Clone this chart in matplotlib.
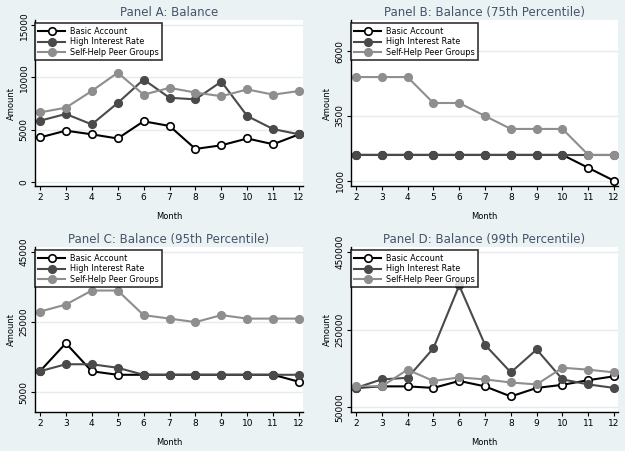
import matplotlib
matplotlib.use("Agg")
import matplotlib.pyplot as plt

months = [2, 3, 4, 5, 6, 7, 8, 9, 10, 11, 12]
series_names = ["Basic Account", "High Interest Rate", "Self-Help Peer Groups"]

# Panel A: Balance
a_basic = [4250, 4900, 4550, 4150, 5800, 5350, 3150, 3500, 4150, 3600, 4550]
a_high = [5850, 6500, 5500, 7550, 9800, 8050, 7900, 9600, 6300, 5050, 4550]
a_self = [6650, 7100, 8700, 10450, 8350, 9000, 8550, 8200, 8850, 8350, 8700]

# Panel B: Balance (75th Percentile)
b_basic = [2000, 2000, 2000, 2000, 2000, 2000, 2000, 2000, 2000, 1500, 1000]
b_high = [2000, 2000, 2000, 2000, 2000, 2000, 2000, 2000, 2000, 2000, 2000]
b_self = [5000, 5000, 5000, 4000, 4000, 3500, 3000, 3000, 3000, 2000, 2000]

# Panel C: Balance (95th Percentile)
c_basic = [11000, 19000, 11000, 10000, 10000, 10000, 10000, 10000, 10000, 10000, 8000]
c_high = [11000, 13000, 13000, 12000, 10000, 10000, 10000, 10000, 10000, 10000, 10000]
c_self = [28000, 30000, 34000, 34000, 27000, 26000, 25000, 27000, 26000, 26000, 26000]

# Panel D: Balance (99th Percentile)
d_basic = [100000, 104000, 104000, 100000, 118000, 104000, 78000, 100000, 108000, 120000, 130000]
d_high = [100000, 122000, 126000, 202000, 364000, 211000, 140000, 199000, 122000, 109000, 100000]
d_self = [104000, 104000, 147000, 118000, 127000, 122000, 114000, 109000, 152000, 147000, 140000]

titles = ["Panel A: Balance", "Panel B: Balance (75th Percentile)",
          "Panel C: Balance (95th Percentile)", "Panel D: Balance (99th Percentile)"]
yticks = [[0, 5000, 10000, 15000], [1000, 3500, 6000],
          [5000, 25000, 45000], [50000, 250000, 450000]]
ylims = [(-400, 15500), (800, 7200), (-600, 46400), (38000, 463000)]
panels = [(a_basic, a_high, a_self), (b_basic, b_high, b_self),
          (c_basic, c_high, c_self), (d_basic, d_high, d_self)]

bg = "#eaf2f3"
title_col = "#46546a"
styles = [dict(color="black", mfc="white", mec="black"),
          dict(color="#4a4a4a", mfc="#4a4a4a", mec="#4a4a4a"),
          dict(color="#8e8e8e", mfc="#8e8e8e", mec="#8e8e8e")]

fig = plt.figure(figsize=(6.25, 4.51), dpi=100, facecolor=bg)
W, H = 625, 451
boxes = [(35, 20, 303, 186), (351, 20, 618, 186),
         (35, 247, 303, 412), (351, 247, 618, 412)]

for i, (x0, y0, x1, y1) in enumerate(boxes):
    ax = fig.add_axes([x0 / W, 1 - y1 / H, (x1 - x0) / W, (y1 - y0) / H])
    ax.set_facecolor("white")
    for vals, name, st in zip(panels[i], series_names, styles):
        ax.plot(months, vals, lw=1.5, marker="o", ms=5.4, mew=1.2,
                label=name, **st)
    ax.set_xlim(1.81, 12.15)
    ax.set_ylim(*ylims[i])
    ax.set_xticks(months)
    ax.set_yticks(yticks[i])
    ax.set_yticklabels([str(v) for v in yticks[i]], rotation=90, va="center")
    ax.tick_params(labelsize=6.5, length=3, width=0.8, colors="black")
    ax.tick_params(axis="y", pad=1.5)
    ax.tick_params(axis="x", pad=2)
    ax.grid(axis="y", color="#e4eced", lw=1)
    ax.set_axisbelow(True)
    for s in ["top", "right"]:
        ax.spines[s].set_visible(False)
    for s in ["left", "bottom"]:
        ax.spines[s].set_linewidth(1.0)
    ax.set_xlabel("Month", fontsize=6, labelpad=7)
    ax.set_ylabel("Amount", fontsize=6, labelpad=3)
    ax.set_title(titles[i], fontsize=8.5, color=title_col, pad=3)
    leg = ax.legend(loc="upper left", bbox_to_anchor=(-0.004, 0.985),
                    fontsize=5.9, frameon=True, fancybox=False,
                    borderpad=0.4, labelspacing=0.22, handlelength=3.3,
                    handletextpad=0.6, borderaxespad=0.1)
    leg.get_frame().set_edgecolor("black")
    leg.get_frame().set_linewidth(1.2)

fig.savefig("out.png", dpi=100, facecolor=bg)
